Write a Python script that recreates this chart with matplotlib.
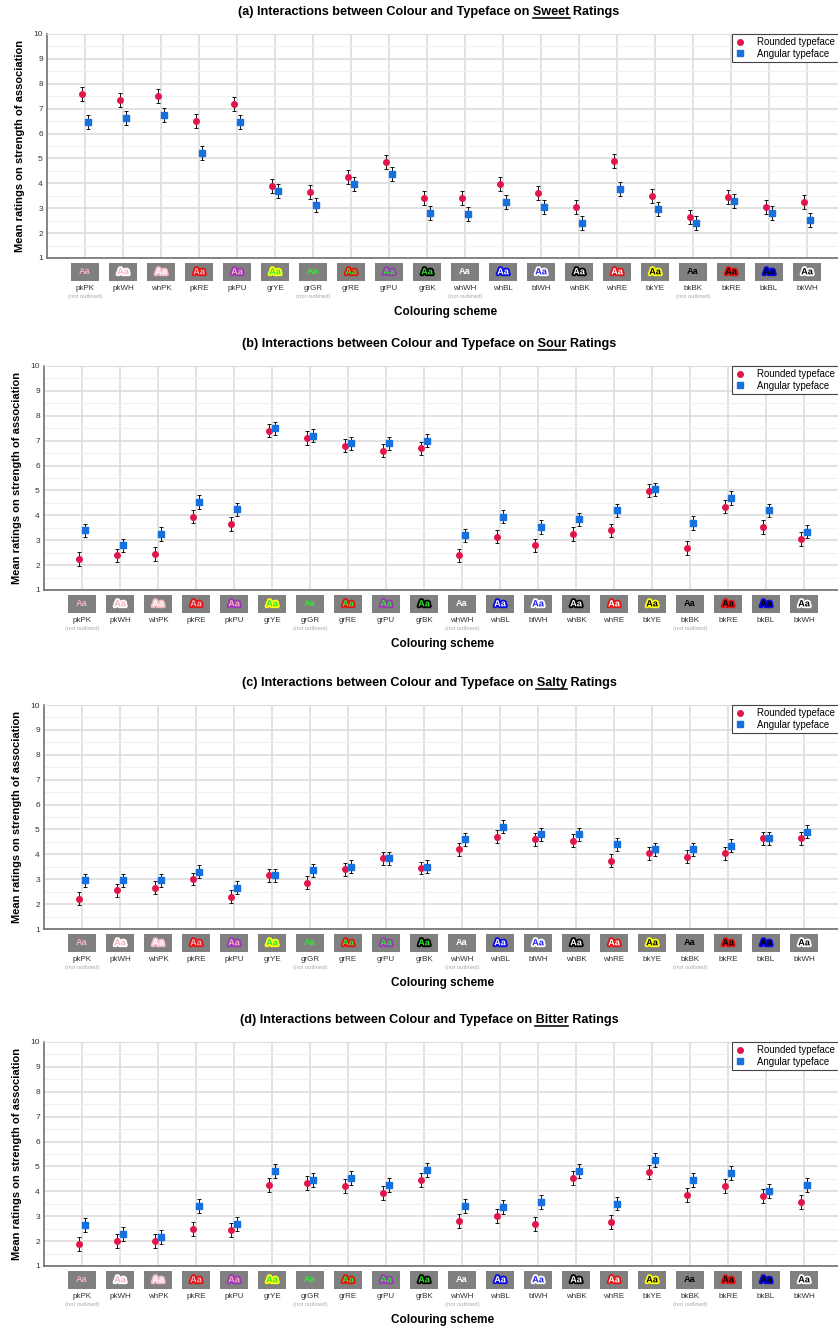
import matplotlib
matplotlib.use('Agg')
import matplotlib.pyplot as plt
import matplotlib.patheffects as pe
import matplotlib.transforms as mtransforms
from matplotlib.patches import Rectangle
from matplotlib.lines import Line2D
import numpy as np

plt.rcParams['font.family'] = ['Liberation Sans', 'DejaVu Sans']

schemes = ['pkPK', 'pkWH', 'whPK', 'pkRE', 'pkPU', 'grYE', 'grGR', 'grRE', 'grPU', 'grBK',
           'whWH', 'whBL', 'blWH', 'whBK', 'whRE', 'bkYE', 'bkBK', 'bkRE', 'bkBL', 'bkWH']
not_outlined = ['pkPK', 'grGR', 'whWH', 'bkBK']

tastes = ['Sweet', 'Sour', 'Salty', 'Bitter']
panel_tags = ['(a)', '(b)', '(c)', '(d)']

sweet_rounded = [7.60, 7.36, 7.50, 6.50, 7.20, 3.91, 3.65, 4.25, 4.84, 3.41,
                 3.41, 3.96, 3.61, 3.06, 4.90, 3.50, 2.66, 3.46, 3.06, 3.26]
sweet_angular = [6.45, 6.61, 6.76, 5.21, 6.45, 3.71, 3.14, 3.96, 4.36, 2.81,
                 2.75, 3.26, 3.06, 2.41, 3.76, 2.97, 2.41, 3.30, 2.81, 2.51]

sour_rounded = [2.25, 2.39, 2.45, 3.95, 3.65, 7.40, 7.10, 6.80, 6.60, 6.69,
                2.39, 3.14, 2.79, 3.25, 3.40, 4.99, 2.69, 4.35, 3.54, 3.05]
sour_angular = [3.40, 2.79, 3.25, 4.54, 4.24, 7.50, 7.20, 6.89, 6.89, 7.00,
                3.20, 3.95, 3.54, 3.84, 4.20, 5.04, 3.69, 4.70, 4.20, 3.34]

salty_rounded = [2.21, 2.55, 2.65, 3.01, 2.30, 3.16, 2.85, 3.40, 3.85, 3.45,
                 4.20, 4.70, 4.60, 4.55, 3.75, 4.05, 3.91, 4.05, 4.64, 4.64]
salty_angular = [2.96, 2.96, 2.96, 3.30, 2.65, 3.16, 3.36, 3.50, 3.85, 3.50,
                 4.60, 5.10, 4.80, 4.80, 4.40, 4.20, 4.20, 4.35, 4.64, 4.90]

bitter_rounded = [1.90, 2.01, 2.01, 2.50, 2.45, 4.26, 4.35, 4.21, 3.95, 4.46,
                  2.81, 3.01, 2.70, 4.55, 2.75, 4.76, 3.86, 4.21, 3.80, 3.56]
bitter_angular = [2.65, 2.30, 2.15, 3.40, 2.70, 4.81, 4.46, 4.55, 4.26, 4.86,
                  3.40, 3.36, 3.56, 4.81, 3.51, 5.27, 4.46, 4.72, 4.00, 4.26]

# standard error bar half-widths
rounded_err = [0.28, 0.27, 0.26, 0.28]
angular_err = [0.28, 0.27, 0.26, 0.28]

rounded_means = [sweet_rounded, sour_rounded, salty_rounded, bitter_rounded]
angular_means = [sweet_angular, sour_angular, salty_angular, bitter_angular]

fill_colours = {'pk': '#f4b3bd', 'wh': '#ffffff', 'gr': '#33e633', 'bk': '#000000', 'bl': '#1f1ff0'}
outline_colours = {'PK': '#f4bcc5', 'WH': '#ffffff', 'RE': '#e01414', 'PU': '#9c36b5',
                   'YE': '#ffff10', 'GR': '#33e633', 'BK': '#000000', 'BL': '#0808e0'}

red = '#e3164c'
blue = '#1670de'

W, H = 838, 1330
fig = plt.figure(figsize=(W / 100, H / 100), dpi=100)

axes_tops = [34, 366, 705, 1042]
axes_lefts = [47, 44, 44, 44]
axes_h = 224
axes_w = 798
title_cx = 429
title_size = 9.1

titles = []
for k in range(4):
    top, left = axes_tops[k], axes_lefts[k]
    ax = fig.add_axes([left / W, 1 - (top + axes_h) / H, axes_w / W, axes_h / H])
    x = np.arange(len(schemes))

    ax.errorbar(x - 0.07, rounded_means[k], yerr=rounded_err[k], fmt='o', color=red,
                markersize=4, ecolor='#111111', elinewidth=0.7, capsize=1.2, capthick=0.7, zorder=3)
    ax.errorbar(x + 0.07, angular_means[k], yerr=angular_err[k], fmt='s', color=blue,
                markersize=3.8, ecolor='#111111', elinewidth=0.7, capsize=1.2, capthick=0.7, zorder=3)

    ax.set_xlim(-1, 20)
    ax.set_ylim(1, 10)
    ax.set_xticks(x)
    ax.set_yticks(range(1, 11))
    ax.set_yticks(np.arange(1.5, 10, 1), minor=True)
    ax.grid(which='major', color='#dddddd', lw=1.2, zorder=0)
    ax.grid(which='minor', axis='y', color='#f1f1f1', lw=0.9, zorder=0)
    ax.set_axisbelow(True)
    ax.tick_params(axis='x', length=0, labelbottom=False)
    ax.tick_params(axis='y', which='both', length=0, labelsize=6, pad=3, labelcolor='#333333')
    for side in ['left', 'bottom']:
        ax.spines[side].set_color('#707070')
        ax.spines[side].set_linewidth(1.2)
    ax.spines['top'].set_color('#dddddd')
    ax.spines['right'].set_visible(False)

    ax.set_ylabel('Mean ratings on strength of association', fontsize=8, fontweight='bold')
    ax.yaxis.set_label_coords(-0.028, 0.5)

    # colour scheme swatches under each tick
    trans = mtransforms.blended_transform_factory(ax.transData, ax.transAxes)
    for i, name in enumerate(schemes):
        ax.add_patch(Rectangle((i - 0.38, -0.102), 0.76, 0.08, transform=trans,
                               clip_on=False, fc='#808080', ec='none'))
        effects = []
        if name not in not_outlined:
            effects = [pe.withStroke(linewidth=2.6, foreground=outline_colours[name[2:]])]
        ax.text(i, -0.062, 'Aa', transform=trans, ha='center', va='center', fontsize=6.6,
                fontweight='bold', color=fill_colours[name[:2]], path_effects=effects)
        ax.text(i, -0.134, name, transform=trans, ha='center', va='center',
                fontsize=5.8, color='#333333')
        if name in not_outlined:
            ax.text(i, -0.170, '(not outlined)', transform=trans, ha='center', va='center',
                    fontsize=4.2, color='#aaaaaa')
    ax.text(0.5, -0.241, 'Colouring scheme', transform=ax.transAxes, ha='center',
            va='center', fontsize=8.5, fontweight='bold')

    handles = [Line2D([], [], marker='o', ls='none', color=red, markersize=4),
               Line2D([], [], marker='s', ls='none', color=blue, markersize=3.8)]
    leg = ax.legend(handles, ['Rounded typeface', 'Angular typeface'], loc='upper left',
                    bbox_to_anchor=((732 - left) / axes_w, 1), borderaxespad=0, fontsize=6.9,
                    fancybox=False, edgecolor='#444444', framealpha=1, handlelength=1,
                    handletextpad=1.3, labelspacing=0.12, borderpad=0.35)
    leg.get_frame().set_linewidth(0.8)

    prefix = f'{panel_tags[k]} Interactions between Colour and Typeface on '
    t = fig.text(title_cx / W, 1 - (top - 22) / H, prefix + tastes[k] + ' Ratings',
                 ha='center', va='center', fontsize=title_size, fontweight='bold')
    titles.append((t, prefix, tastes[k]))

# underline the taste word in each title
fig.canvas.draw()
renderer = fig.canvas.get_renderer()


def text_width(s):
    tmp = fig.text(0, 0, s, fontsize=title_size, fontweight='bold')
    w = tmp.get_window_extent(renderer).width
    tmp.remove()
    return w


for t, prefix, word in titles:
    bb = t.get_window_extent(renderer)
    x_end = bb.x0 + text_width(prefix + word)
    x_start = x_end - text_width(word)
    y = bb.y0 + 0.5
    fig.add_artist(Line2D([x_start / W, x_end / W], [y / H, y / H], transform=fig.transFigure,
                          color='#111111', lw=1.2))

fig.savefig('out.png', dpi=100)
